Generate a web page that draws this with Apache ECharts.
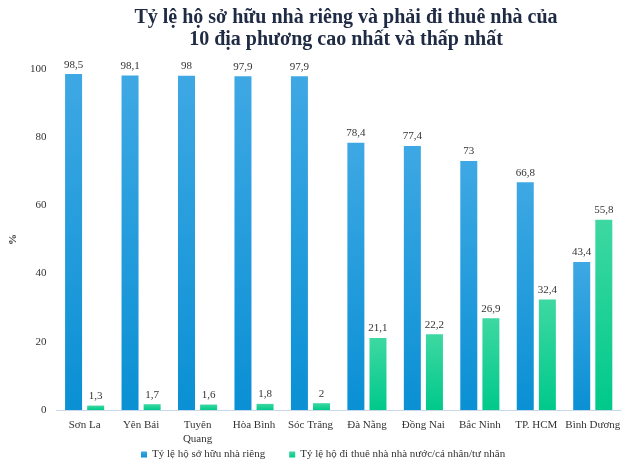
<!DOCTYPE html>
<html>
<head>
<meta charset="utf-8">
<script src="https://cdn.jsdelivr.net/npm/echarts@6/dist/echarts.min.js"></script>
<style>
html, body { margin: 0; padding: 0; background: #fff; }
#chart { width: 630px; height: 475px; }
</style>
</head>
<body>
<div id="chart"></div>
<script>
const categories = ['Sơn La', 'Yên Bái', 'Tuyên\nQuang', 'Hòa Bình', 'Sóc Trăng', 'Đà Nẵng', 'Đồng Nai', 'Bắc Ninh', 'TP. HCM', 'Bình Dương']
const ownValues = [98.5, 98.1, 98, 97.9, 97.9, 78.4, 77.4, 73, 66.8, 43.4]
const rentValues = [1.3, 1.7, 1.6, 1.8, 2, 21.1, 22.2, 26.9, 32.4, 55.8]
const yTicks = [0, 20, 40, 60, 80, 100]

const serif = '"Liberation Serif", "DejaVu Serif", serif'
const fmt = p => String(p.value).replace('.', ',')

const chart = echarts.init(document.getElementById('chart'))

chart.setOption({
	textStyle: { fontFamily: serif },
	title: {
		text: 'Tỷ lệ hộ sở hữu nhà riêng và phải đi thuê nhà của\n10 địa phương cao nhất và thấp nhất',
		left: 341,
		top: 2,
		textAlign: 'center',
		textStyle: {
			fontFamily: serif,
			fontSize: 20,
			fontWeight: 'bold',
			color: '#1f2a44',
			lineHeight: 22
		}
	},
	legend: {
		bottom: 10,
		left: 136,
		itemWidth: 6,
		itemHeight: 6,
		itemGap: 24,
		icon: 'rect',
		textStyle: { fontFamily: serif, fontSize: 11, color: '#333' },
		data: ['Tỷ lệ hộ sở hữu nhà riêng', 'Tỷ lệ hộ đi thuê nhà nhà nước/cá nhân/tư nhân']
	},
	grid: {
		left: 52,
		right: 9,
		top: 69,
		bottom: 65
	},
	xAxis: {
		type: 'category',
		data: categories,
		axisLine: { lineStyle: { color: '#c9d7ea' } },
		axisTick: { show: false },
		axisLabel: {
			interval: 0,
			fontSize: 11,
			color: '#333',
			lineHeight: 14,
			margin: 8
		}
	},
	yAxis: {
		type: 'value',
		min: yTicks[0],
		max: yTicks[yTicks.length - 1],
		interval: 20,
		name: '%',
		nameLocation: 'middle',
		nameGap: 23,
		nameRotate: 90,
		nameTextStyle: { fontFamily: serif, fontSize: 11, color: '#333', fontWeight: 'bold' },
		axisLine: { show: false },
		axisTick: { show: false },
		splitLine: { show: false },
		axisLabel: { fontSize: 11, color: '#333', margin: 10 }
	},
	series: [
		{
			name: 'Tỷ lệ hộ sở hữu nhà riêng',
			type: 'bar',
			data: ownValues,
			barWidth: 17,
			barGap: '30%',
			itemStyle: {
				color: new echarts.graphic.LinearGradient(0, 0, 0, 1, [
					{ offset: 0, color: '#3ea8e4' },
					{ offset: 1, color: '#0a90d4' }
				])
			},
			label: {
				show: true,
				position: 'top',
				distance: 4,
				formatter: fmt,
				fontSize: 11,
				color: '#333'
			}
		},
		{
			name: 'Tỷ lệ hộ đi thuê nhà nhà nước/cá nhân/tư nhân',
			type: 'bar',
			data: rentValues,
			barWidth: 17,
			itemStyle: {
				color: new echarts.graphic.LinearGradient(0, 0, 0, 1, [
					{ offset: 0, color: '#3ed8a2' },
					{ offset: 1, color: '#00c98a' }
				])
			},
			label: {
				show: true,
				position: 'top',
				distance: 4,
				formatter: fmt,
				fontSize: 11,
				color: '#333'
			}
		}
	]
})
</script>
</body>
</html>
